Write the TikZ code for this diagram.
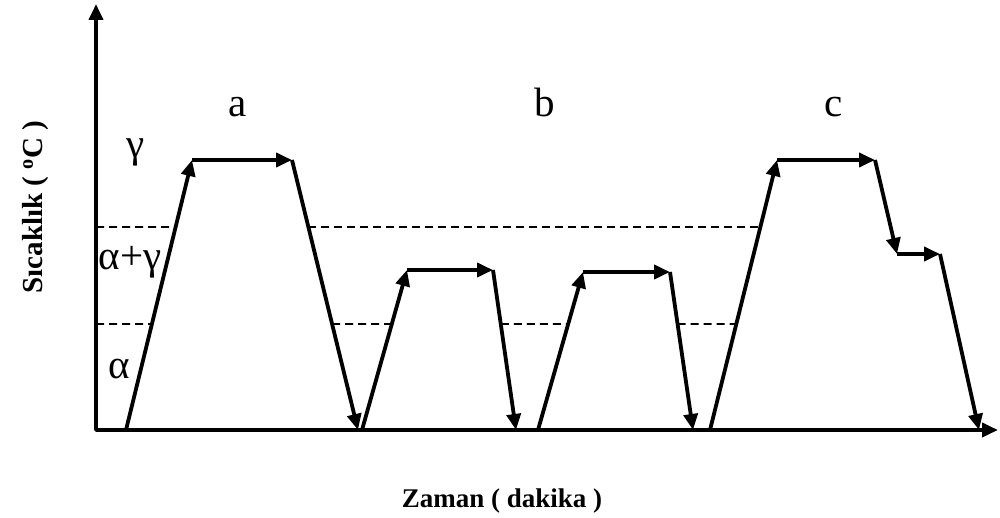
\documentclass[tikz,border=0pt]{standalone}
\usepackage{fontspec}
\setmainfont{Liberation Serif}
\usepackage{tikz}
\usetikzlibrary{arrows.meta, calc}

\begin{document}
\begin{tikzpicture}[
    x=1pt, y=-1pt,
    >={Triangle[length=16pt, width=14pt]},
    flow/.style={->, line width=3.8pt},
    axis/.style={<->, line width=3.8pt, line join=round},
    limit/.style={line width=1.8pt, dash pattern=on 8pt off 5pt},
    phase/.style={anchor=base, font=\fontsize{41}{44}\selectfont},
    title/.style={anchor=base, font=\fontsize{27}{30}\selectfont\bfseries}
]
\useasboundingbox (0,0) rectangle (1000,518);

% Axes
\coordinate (origin) at (96,430);
\coordinate (ytip) at (96,4);
\coordinate (xtip) at (998,430);
\draw[axis] (ytip) -- (origin) -- (xtip);

% Cycle a
\coordinate (a0) at (126,430);
\coordinate (a1) at (192,160);
\coordinate (a2) at (292,160);
\coordinate (a3) at (358,430);
% Cycle b (two short cycles)
\coordinate (b0) at (362,430);
\coordinate (b1) at (407,270);
\coordinate (b2) at (493,270);
\coordinate (b3) at (516,430);
\coordinate (d0) at (538,430);
\coordinate (d1) at (583,272);
\coordinate (d2) at (670,272);
\coordinate (d3) at (693,430);
% Cycle c (stepped cooling)
\coordinate (c0) at (710,430);
\coordinate (c1) at (777,160);
\coordinate (c2) at (875,160);
\coordinate (c3) at (897,254);
\coordinate (c4) at (940,254);
\coordinate (c5) at (979,430);

\draw[flow] (a0) -- (a1);
\draw[flow] (a1) -- (a2);
\draw[flow] (a2) -- (a3);

\draw[flow] (b0) -- (b1);
\draw[flow] (b1) -- (b2);
\draw[flow] (b2) -- (b3);

\draw[flow] (d0) -- (d1);
\draw[flow] (d1) -- (d2);
\draw[flow] (d2) -- (d3);

\draw[flow] (c0) -- (c1);
\draw[flow] (c1) -- (c2);
\draw[flow] (c2) -- (c3);
\draw[flow] (c3) -- (c4);
\draw[flow] (c4) -- (c5);

% Phase limits (dashed)
\coordinate (hi0) at (96,227);
\coordinate (hi1) at (998,227);
\coordinate (lo0) at (96,324);
\coordinate (lo1) at (998,324);
\draw[limit] (hi0) -- (intersection of a0--a1 and hi0--hi1);
\draw[limit] (intersection of a2--a3 and hi0--hi1) -- (intersection of c0--c1 and hi0--hi1);
\draw[limit] (lo0) -- (intersection of a0--a1 and lo0--lo1);
\draw[limit] (intersection of a2--a3 and lo0--lo1) -- (intersection of b0--b1 and lo0--lo1);
\draw[limit] (intersection of b2--b3 and lo0--lo1) -- (intersection of d0--d1 and lo0--lo1);
\draw[limit] (intersection of d2--d3 and lo0--lo1) -- (intersection of c0--c1 and lo0--lo1);

% Phase labels
\node[phase] (gam) at (136,158) {γ};
\node[phase] (alfgam) at (130,270) {α+γ};
\node[phase] (alf) at (119,378) {α};

% Cycle labels
\node[phase] (labA) at (238,117) {a};
\node[phase] (labB) at (545,117) {b};
\node[phase] (labC) at (834,117) {c};

% Axis titles
\node[title] (xlab) at (502,507) {Zaman ( dakika )};
\node[title, rotate=90, font=\fontsize{29}{32}\selectfont\bfseries] (ylab) at (42,207) {Sıcaklık ( \textsuperscript{o}C )};

\end{tikzpicture}
\end{document}
